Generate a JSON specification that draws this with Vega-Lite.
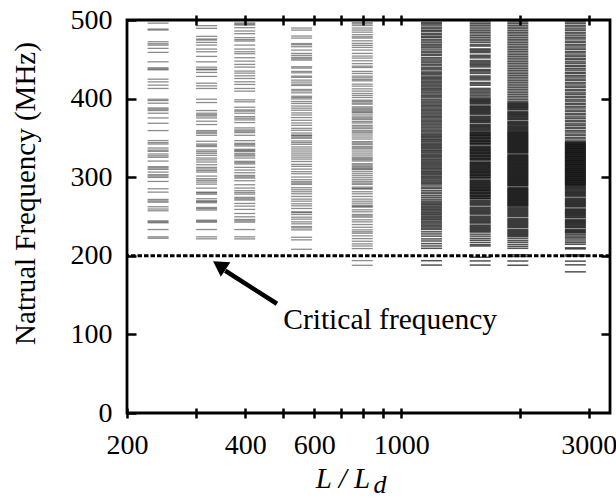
{
"$schema":"https://vega.github.io/schema/vega-lite/v6.json",
"width":483,"height":393,
"autosize":{"type":"none"},
"padding":{"left":127,"top":20,"right":6,"bottom":85},
"background":"white",
"config":{
 "view":{"stroke":"black","strokeWidth":2.8},
 "font":"Liberation Serif",
 "axis":{"labelFont":"Liberation Serif","titleFont":"Liberation Serif","labelColor":"black","titleColor":"black","tickColor":"black","tickWidth":2.5,"domain":false,"grid":false,"labelFontSize":28,"titleFontSize":29,"titleFontWeight":"normal","zindex":2}
},
"datasets":{"modes":[
{"L":240,"f":496},{"L":240,"f":488.5},{"L":240,"f":487.2},{"L":240,"f":472.3},{"L":240,"f":469.8},{"L":240,"f":468},{"L":240,"f":463.9},{"L":240,"f":458.8},{"L":240,"f":446.8},{"L":240,"f":439.2},{"L":240,"f":437.8},{"L":240,"f":436.6},{"L":240,"f":424.7},{"L":240,"f":421.3},{"L":240,"f":417.1},{"L":240,"f":412.9},{"L":240,"f":399.2},{"L":240,"f":397.5},{"L":240,"f":394.1},{"L":240,"f":388.1},{"L":240,"f":386.5},{"L":240,"f":384.8},{"L":240,"f":381.4},{"L":240,"f":375.4},{"L":240,"f":368.6},{"L":240,"f":359.3},{"L":240,"f":346.6},{"L":240,"f":344},{"L":240,"f":342.2},{"L":240,"f":337.1},{"L":240,"f":334.5},{"L":240,"f":332.9},{"L":240,"f":329.5},{"L":240,"f":327.2},{"L":240,"f":325.3},{"L":240,"f":320.5},{"L":240,"f":313.4},{"L":240,"f":311.8},{"L":240,"f":310},{"L":240,"f":306.5},{"L":240,"f":303.2},{"L":240,"f":301.5},{"L":240,"f":299.7},{"L":240,"f":294.6},{"L":240,"f":285.3},{"L":240,"f":281},{"L":240,"f":271.7},{"L":240,"f":269.8},{"L":240,"f":268.2},{"L":240,"f":262.4},{"L":240,"f":259.5},{"L":240,"f":257.3},{"L":240,"f":244.5},{"L":240,"f":243.2},{"L":240,"f":242},{"L":240,"f":233.4},{"L":240,"f":224.1},{"L":240,"f":222.3},
{"L":319,"f":492.8},{"L":319,"f":489.4},{"L":319,"f":479.2},{"L":319,"f":475.8},{"L":319,"f":474.5},{"L":319,"f":471.5},{"L":319,"f":468.1},{"L":319,"f":463},{"L":319,"f":459.6},{"L":319,"f":453.7},{"L":319,"f":446.8},{"L":319,"f":440},{"L":319,"f":437.5},{"L":319,"f":436.6},{"L":319,"f":433.3},{"L":319,"f":428.2},{"L":319,"f":419.6},{"L":319,"f":416.2},{"L":319,"f":412.9},{"L":319,"f":399.2},{"L":319,"f":395},{"L":319,"f":384.8},{"L":319,"f":381.4},{"L":319,"f":379.5},{"L":319,"f":377.9},{"L":319,"f":375.4},{"L":319,"f":371.2},{"L":319,"f":367},{"L":319,"f":359.3},{"L":319,"f":357.5},{"L":319,"f":355.9},{"L":319,"f":353.3},{"L":319,"f":345.7},{"L":319,"f":342.2},{"L":319,"f":340.5},{"L":319,"f":338.9},{"L":319,"f":334.6},{"L":319,"f":332.5},{"L":319,"f":330.4},{"L":319,"f":327.8},{"L":319,"f":324.4},{"L":319,"f":322},{"L":319,"f":319.3},{"L":319,"f":315.9},{"L":319,"f":312.5},{"L":319,"f":310.5},{"L":319,"f":308.5},{"L":319,"f":306.5},{"L":319,"f":301.4},{"L":319,"f":298.1},{"L":319,"f":296},{"L":319,"f":293.8},{"L":319,"f":291.2},{"L":319,"f":286.1},{"L":319,"f":281},{"L":319,"f":280},{"L":319,"f":278.4},{"L":319,"f":272.6},{"L":319,"f":270},{"L":319,"f":269},{"L":319,"f":267.5},{"L":319,"f":261.5},{"L":319,"f":260},{"L":319,"f":258.2},{"L":319,"f":245.3},{"L":319,"f":244},{"L":319,"f":242.7},{"L":319,"f":233.4},{"L":319,"f":224.1},{"L":319,"f":221.6},
{"L":399,"f":496.2},{"L":399,"f":494.8},{"L":399,"f":493.6},{"L":399,"f":490.2},{"L":399,"f":486},{"L":399,"f":482.6},{"L":399,"f":477.5},{"L":399,"f":475},{"L":399,"f":473.2},{"L":399,"f":468.1},{"L":399,"f":463},{"L":399,"f":459.6},{"L":399,"f":457.1},{"L":399,"f":452},{"L":399,"f":447.7},{"L":399,"f":443.5},{"L":399,"f":440.1},{"L":399,"f":435},{"L":399,"f":432.4},{"L":399,"f":429},{"L":399,"f":425.6},{"L":399,"f":421.4},{"L":399,"f":418},{"L":399,"f":412.9},{"L":399,"f":409.5},{"L":399,"f":398.4},{"L":399,"f":395.9},{"L":399,"f":389},{"L":399,"f":385.6},{"L":399,"f":384},{"L":399,"f":381.4},{"L":399,"f":377.1},{"L":399,"f":375},{"L":399,"f":372.9},{"L":399,"f":369.5},{"L":399,"f":362.7},{"L":399,"f":360.1},{"L":399,"f":358.5},{"L":399,"f":356.7},{"L":399,"f":353.3},{"L":399,"f":346.5},{"L":399,"f":343.1},{"L":399,"f":341.5},{"L":399,"f":339.7},{"L":399,"f":335.5},{"L":399,"f":334},{"L":399,"f":332.9},{"L":399,"f":330.4},{"L":399,"f":328.5},{"L":399,"f":327},{"L":399,"f":324.4},{"L":399,"f":320.2},{"L":399,"f":318.5},{"L":399,"f":316.8},{"L":399,"f":312.5},{"L":399,"f":309.1},{"L":399,"f":305.7},{"L":399,"f":302.3},{"L":399,"f":300.5},{"L":399,"f":298.9},{"L":399,"f":295.5},{"L":399,"f":290.4},{"L":399,"f":286.2},{"L":399,"f":282.8},{"L":399,"f":280.5},{"L":399,"f":278.5},{"L":399,"f":274.3},{"L":399,"f":272.5},{"L":399,"f":270.9},{"L":399,"f":266.6},{"L":399,"f":263.2},{"L":399,"f":259},{"L":399,"f":253.8},{"L":399,"f":249.6},{"L":399,"f":246.2},{"L":399,"f":244.5},{"L":399,"f":242.8},{"L":399,"f":233.4},{"L":399,"f":224.1},{"L":399,"f":221.5},
{"L":557,"f":489.8},{"L":557,"f":487.2},{"L":557,"f":479.6},{"L":557,"f":477},{"L":557,"f":470},{"L":557,"f":468.5},{"L":557,"f":466},{"L":557,"f":461.7},{"L":557,"f":457.5},{"L":557,"f":455},{"L":557,"f":452.5},{"L":557,"f":450.7},{"L":557,"f":449},{"L":557,"f":440.5},{"L":557,"f":438.8},{"L":557,"f":434.6},{"L":557,"f":432.8},{"L":557,"f":428.6},{"L":557,"f":427},{"L":557,"f":423.5},{"L":557,"f":421},{"L":557,"f":418.4},{"L":557,"f":416.7},{"L":557,"f":411.6},{"L":557,"f":409.8},{"L":557,"f":407.3},{"L":557,"f":403},{"L":557,"f":401.4},{"L":557,"f":399.6},{"L":557,"f":396.3},{"L":557,"f":393.8},{"L":557,"f":390.5},{"L":557,"f":387.8},{"L":557,"f":385.2},{"L":557,"f":381.8},{"L":557,"f":379.2},{"L":557,"f":375.9},{"L":557,"f":372.4},{"L":557,"f":369},{"L":557,"f":366},{"L":557,"f":362.2},{"L":557,"f":359.7},{"L":557,"f":356.2},{"L":557,"f":353.7},{"L":557,"f":352.9},{"L":557,"f":351.1},{"L":557,"f":349.5},{"L":557,"f":346.1},{"L":557,"f":344},{"L":557,"f":341.8},{"L":557,"f":338.5},{"L":557,"f":335.9},{"L":557,"f":333.3},{"L":557,"f":330.7},{"L":557,"f":328.2},{"L":557,"f":325.6},{"L":557,"f":323.1},{"L":557,"f":320},{"L":557,"f":316.3},{"L":557,"f":313.8},{"L":557,"f":310.3},{"L":557,"f":307},{"L":557,"f":304.4},{"L":557,"f":300.2},{"L":557,"f":296.8},{"L":557,"f":294.3},{"L":557,"f":292.5},{"L":557,"f":290.8},{"L":557,"f":286.6},{"L":557,"f":284},{"L":557,"f":281.5},{"L":557,"f":278.9},{"L":557,"f":275.5},{"L":557,"f":272.1},{"L":557,"f":269.5},{"L":557,"f":266.2},{"L":557,"f":263.6},{"L":557,"f":260.2},{"L":557,"f":256},{"L":557,"f":255},{"L":557,"f":252.6},{"L":557,"f":249.1},{"L":557,"f":246.6},{"L":557,"f":243.2},{"L":557,"f":240.7},{"L":557,"f":237.2},{"L":557,"f":235.5},{"L":557,"f":233},{"L":557,"f":223.6},{"L":557,"f":220.3},{"L":557,"f":208.3},
{"L":795,"f":496.6},{"L":795,"f":495},{"L":795,"f":493},{"L":795,"f":489.8},{"L":795,"f":487.2},{"L":795,"f":484.5},{"L":795,"f":481.3},{"L":795,"f":478.7},{"L":795,"f":477},{"L":795,"f":473.5},{"L":795,"f":470.2},{"L":795,"f":467.7},{"L":795,"f":465.1},{"L":795,"f":461.7},{"L":795,"f":457.5},{"L":795,"f":454.1},{"L":795,"f":451.5},{"L":795,"f":448.1},{"L":795,"f":444.5},{"L":795,"f":441.3},{"L":795,"f":439.6},{"L":795,"f":434.6},{"L":795,"f":432},{"L":795,"f":428.6},{"L":795,"f":426.5},{"L":795,"f":424.3},{"L":795,"f":422.6},{"L":795,"f":418.4},{"L":795,"f":415.8},{"L":795,"f":412.4},{"L":795,"f":409.5},{"L":795,"f":406.5},{"L":795,"f":404},{"L":795,"f":401.4},{"L":795,"f":398},{"L":795,"f":396.5},{"L":795,"f":394.5},{"L":795,"f":392.9},{"L":795,"f":389.5},{"L":795,"f":387.8},{"L":795,"f":386.1},{"L":795,"f":384.4},{"L":795,"f":383},{"L":795,"f":381.8},{"L":795,"f":379.2},{"L":795,"f":376.7},{"L":795,"f":375},{"L":795,"f":373.3},{"L":795,"f":370.8},{"L":795,"f":369},{"L":795,"f":366},{"L":795,"f":364},{"L":795,"f":362.2},{"L":795,"f":359.7},{"L":795,"f":357.8},{"L":795,"f":356.2},{"L":795,"f":353.7},{"L":795,"f":351.1},{"L":795,"f":348.6},{"L":795,"f":345.2},{"L":795,"f":343.5},{"L":795,"f":341.8},{"L":795,"f":339.3},{"L":795,"f":337.5},{"L":795,"f":335.9},{"L":795,"f":333.3},{"L":795,"f":330.7},{"L":795,"f":328.2},{"L":795,"f":325.6},{"L":795,"f":324},{"L":795,"f":322.3},{"L":795,"f":320.6},{"L":795,"f":317.2},{"L":795,"f":315.5},{"L":795,"f":313.8},{"L":795,"f":312.1},{"L":795,"f":310.8},{"L":795,"f":309.6},{"L":795,"f":307},{"L":795,"f":304.4},{"L":795,"f":301.9},{"L":795,"f":299.3},{"L":795,"f":296.8},{"L":795,"f":294.5},{"L":795,"f":292.5},{"L":795,"f":290.8},{"L":795,"f":287.4},{"L":795,"f":285.8},{"L":795,"f":284.8},{"L":795,"f":281.5},{"L":795,"f":278.9},{"L":795,"f":275.5},{"L":795,"f":272.1},{"L":795,"f":269.5},{"L":795,"f":267},{"L":795,"f":264.4},{"L":795,"f":262.9},{"L":795,"f":261.9},{"L":795,"f":258.5},{"L":795,"f":256},{"L":795,"f":252.6},{"L":795,"f":250.8},{"L":795,"f":249.1},{"L":795,"f":245.8},{"L":795,"f":243.2},{"L":795,"f":239.8},{"L":795,"f":236.3},{"L":795,"f":233},{"L":795,"f":230.6},{"L":795,"f":228.7},{"L":795,"f":225.4},{"L":795,"f":221.9},{"L":795,"f":218.5},{"L":795,"f":215.2},{"L":795,"f":212.5},{"L":795,"f":209.2},{"L":795,"f":193.9},{"L":795,"f":187.9},
{"L":1193,"f":497},{"L":1193,"f":495.2},{"L":1193,"f":493.5},{"L":1193,"f":491},{"L":1193,"f":489.2},{"L":1193,"f":487},{"L":1193,"f":485.5},{"L":1193,"f":483},{"L":1193,"f":481.2},{"L":1193,"f":479},{"L":1193,"f":477.5},{"L":1193,"f":475},{"L":1193,"f":473.2},{"L":1193,"f":471},{"L":1193,"f":468.8},{"L":1193,"f":467},{"L":1193,"f":465.2},{"L":1193,"f":463},{"L":1193,"f":460.5},{"L":1193,"f":458.8},{"L":1193,"f":456.5},{"L":1193,"f":454.8},{"L":1193,"f":452},{"L":1193,"f":450.2},{"L":1193,"f":448},{"L":1193,"f":446.3},{"L":1193,"f":444},{"L":1193,"f":442.5},{"L":1193,"f":440},{"L":1193,"f":438.2},{"L":1193,"f":436.5},{"L":1193,"f":434},{"L":1193,"f":432.5},{"L":1193,"f":431},{"L":1193,"f":428.8},{"L":1193,"f":427},{"L":1193,"f":425.5},{"L":1193,"f":423.8},{"L":1193,"f":422},{"L":1193,"f":420.2},{"L":1193,"f":418.5},{"L":1193,"f":416.8},{"L":1193,"f":415},{"L":1193,"f":413.2},{"L":1193,"f":411.5},{"L":1193,"f":409.8},{"L":1193,"f":408},{"L":1193,"f":406},{"L":1193,"f":404.2},{"L":1193,"f":402.5},{"L":1193,"f":400.8},{"L":1193,"f":398.5},{"L":1193,"f":396.8},{"L":1193,"f":395},{"L":1193,"f":393.2},{"L":1193,"f":391.5},{"L":1193,"f":389.8},{"L":1193,"f":388},{"L":1193,"f":386.2},{"L":1193,"f":384.5},{"L":1193,"f":382.8},{"L":1193,"f":381},{"L":1193,"f":379.2},{"L":1193,"f":377.5},{"L":1193,"f":375.8},{"L":1193,"f":374},{"L":1193,"f":372.2},{"L":1193,"f":370.5},{"L":1193,"f":368.8},{"L":1193,"f":367},{"L":1193,"f":365.2},{"L":1193,"f":363.5},{"L":1193,"f":361.5},{"L":1193,"f":359.8},{"L":1193,"f":358},{"L":1193,"f":356.2},{"L":1193,"f":354.5},{"L":1193,"f":353},{"L":1193,"f":351.5},{"L":1193,"f":350},{"L":1193,"f":348.3},{"L":1193,"f":346.8},{"L":1193,"f":345.2},{"L":1193,"f":343.5},{"L":1193,"f":342},{"L":1193,"f":340.5},{"L":1193,"f":339},{"L":1193,"f":337.5},{"L":1193,"f":336},{"L":1193,"f":334.3},{"L":1193,"f":332.8},{"L":1193,"f":331.2},{"L":1193,"f":329.5},{"L":1193,"f":328},{"L":1193,"f":326.5},{"L":1193,"f":325},{"L":1193,"f":323.2},{"L":1193,"f":321.8},{"L":1193,"f":320.2},{"L":1193,"f":318.5},{"L":1193,"f":317},{"L":1193,"f":315.5},{"L":1193,"f":314},{"L":1193,"f":312.3},{"L":1193,"f":310.8},{"L":1193,"f":309.2},{"L":1193,"f":307.5},{"L":1193,"f":306},{"L":1193,"f":304.5},{"L":1193,"f":303},{"L":1193,"f":301.3},{"L":1193,"f":299.8},{"L":1193,"f":298.2},{"L":1193,"f":296.5},{"L":1193,"f":295},{"L":1193,"f":293.3},{"L":1193,"f":291.8},{"L":1193,"f":290},{"L":1193,"f":287.5},{"L":1193,"f":285.8},{"L":1193,"f":283.2},{"L":1193,"f":281},{"L":1193,"f":279},{"L":1193,"f":276.5},{"L":1193,"f":274.3},{"L":1193,"f":272},{"L":1193,"f":269.8},{"L":1193,"f":268.2},{"L":1193,"f":266.5},{"L":1193,"f":265},{"L":1193,"f":263.3},{"L":1193,"f":261.8},{"L":1193,"f":260},{"L":1193,"f":258.5},{"L":1193,"f":257},{"L":1193,"f":255.3},{"L":1193,"f":253.8},{"L":1193,"f":252.2},{"L":1193,"f":250.5},{"L":1193,"f":249},{"L":1193,"f":247.3},{"L":1193,"f":245.8},{"L":1193,"f":244},{"L":1193,"f":242.2},{"L":1193,"f":240.5},{"L":1193,"f":238.8},{"L":1193,"f":237},{"L":1193,"f":235.2},{"L":1193,"f":233.5},{"L":1193,"f":230.5},{"L":1193,"f":227.8},{"L":1193,"f":225},{"L":1193,"f":221.5},{"L":1193,"f":218.8},{"L":1193,"f":215.5},{"L":1193,"f":212.5},{"L":1193,"f":209.5},{"L":1193,"f":193.8},{"L":1193,"f":188.2},
{"L":1588,"f":497.5},{"L":1588,"f":495.3},{"L":1588,"f":493.2},{"L":1588,"f":491},{"L":1588,"f":488.7},{"L":1588,"f":486.5},{"L":1588,"f":484.4},{"L":1588,"f":482.2},{"L":1588,"f":480},{"L":1588,"f":477.8},{"L":1588,"f":475.6},{"L":1588,"f":473.5},{"L":1588,"f":471.3},{"L":1588,"f":468.5},{"L":1588,"f":466.8},{"L":1588,"f":463.2},{"L":1588,"f":461.8},{"L":1588,"f":460.2},{"L":1588,"f":458.5},{"L":1588,"f":455.2},{"L":1588,"f":453.5},{"L":1588,"f":451.8},{"L":1588,"f":448.5},{"L":1588,"f":446.8},{"L":1588,"f":445.2},{"L":1588,"f":443.6},{"L":1588,"f":442},{"L":1588,"f":440.3},{"L":1588,"f":437},{"L":1588,"f":435.5},{"L":1588,"f":433.8},{"L":1588,"f":432},{"L":1588,"f":428.8},{"L":1588,"f":427.2},{"L":1588,"f":425.5},{"L":1588,"f":423.8},{"L":1588,"f":420.5},{"L":1588,"f":418.8},{"L":1588,"f":417},{"L":1588,"f":413},{"L":1588,"f":411.2},{"L":1588,"f":409.5},{"L":1588,"f":407.6},{"L":1588,"f":405.8},{"L":1588,"f":403.9},{"L":1588,"f":402},{"L":1588,"f":400.2},{"L":1588,"f":399},{"L":1588,"f":397.8},{"L":1588,"f":396.6},{"L":1588,"f":395.4},{"L":1588,"f":394.2},{"L":1588,"f":393},{"L":1588,"f":390.8},{"L":1588,"f":389.6},{"L":1588,"f":388.4},{"L":1588,"f":387.2},{"L":1588,"f":386},{"L":1588,"f":384.8},{"L":1588,"f":383.6},{"L":1588,"f":382.4},{"L":1588,"f":381.2},{"L":1588,"f":380},{"L":1588,"f":377.8},{"L":1588,"f":376.6},{"L":1588,"f":375.4},{"L":1588,"f":374.2},{"L":1588,"f":373},{"L":1588,"f":371.8},{"L":1588,"f":370.6},{"L":1588,"f":369.4},{"L":1588,"f":367.2},{"L":1588,"f":366},{"L":1588,"f":364.8},{"L":1588,"f":363.6},{"L":1588,"f":362.4},{"L":1588,"f":361.2},{"L":1588,"f":360},{"L":1588,"f":358.8},{"L":1588,"f":357.4},{"L":1588,"f":356.6},{"L":1588,"f":355.3},{"L":1588,"f":354.6},{"L":1588,"f":353.4},{"L":1588,"f":352.7},{"L":1588,"f":351.3},{"L":1588,"f":350.6},{"L":1588,"f":349.4},{"L":1588,"f":348.7},{"L":1588,"f":347.3},{"L":1588,"f":346.6},{"L":1588,"f":345.4},{"L":1588,"f":344.7},{"L":1588,"f":343.3},{"L":1588,"f":342.6},{"L":1588,"f":341.4},{"L":1588,"f":339.6},{"L":1588,"f":338.4},{"L":1588,"f":337.7},{"L":1588,"f":336.3},{"L":1588,"f":335.6},{"L":1588,"f":334.4},{"L":1588,"f":333.7},{"L":1588,"f":332.3},{"L":1588,"f":331.6},{"L":1588,"f":330.4},{"L":1588,"f":329.7},{"L":1588,"f":328.3},{"L":1588,"f":327.6},{"L":1588,"f":326.4},{"L":1588,"f":325.7},{"L":1588,"f":324.3},{"L":1588,"f":323.6},{"L":1588,"f":322.4},{"L":1588,"f":321.7},{"L":1588,"f":319.6},{"L":1588,"f":318.4},{"L":1588,"f":317.7},{"L":1588,"f":316.3},{"L":1588,"f":315.6},{"L":1588,"f":314.4},{"L":1588,"f":313.7},{"L":1588,"f":312.3},{"L":1588,"f":311.6},{"L":1588,"f":310.4},{"L":1588,"f":309.7},{"L":1588,"f":308.3},{"L":1588,"f":307.6},{"L":1588,"f":306.4},{"L":1588,"f":305.7},{"L":1588,"f":304.3},{"L":1588,"f":303.6},{"L":1588,"f":302.4},{"L":1588,"f":301.7},{"L":1588,"f":300.3},{"L":1588,"f":299.6},{"L":1588,"f":298.4},{"L":1588,"f":296.6},{"L":1588,"f":295.4},{"L":1588,"f":294.7},{"L":1588,"f":293.3},{"L":1588,"f":292.6},{"L":1588,"f":291.4},{"L":1588,"f":290.7},{"L":1588,"f":289.3},{"L":1588,"f":288.6},{"L":1588,"f":287.4},{"L":1588,"f":286.7},{"L":1588,"f":285.3},{"L":1588,"f":284.6},{"L":1588,"f":283.4},{"L":1588,"f":282.7},{"L":1588,"f":281.3},{"L":1588,"f":280.6},{"L":1588,"f":279.4},{"L":1588,"f":278.7},{"L":1588,"f":277.3},{"L":1588,"f":276.6},{"L":1588,"f":275.4},{"L":1588,"f":274.7},{"L":1588,"f":273.3},{"L":1588,"f":272.6},{"L":1588,"f":270.8},{"L":1588,"f":269.5},{"L":1588,"f":268.2},{"L":1588,"f":266.9},{"L":1588,"f":265.6},{"L":1588,"f":264.3},{"L":1588,"f":262},{"L":1588,"f":260.7},{"L":1588,"f":259.4},{"L":1588,"f":258.1},{"L":1588,"f":256.8},{"L":1588,"f":255.5},{"L":1588,"f":254.2},{"L":1588,"f":252.9},{"L":1588,"f":250.6},{"L":1588,"f":249.3},{"L":1588,"f":248},{"L":1588,"f":246.7},{"L":1588,"f":245.4},{"L":1588,"f":244.1},{"L":1588,"f":242.8},{"L":1588,"f":241.5},{"L":1588,"f":239.2},{"L":1588,"f":237.9},{"L":1588,"f":236.6},{"L":1588,"f":235.3},{"L":1588,"f":234},{"L":1588,"f":232.7},{"L":1588,"f":231.4},{"L":1588,"f":230.1},{"L":1588,"f":227.5},{"L":1588,"f":225},{"L":1588,"f":222.2},{"L":1588,"f":219.8},{"L":1588,"f":217},{"L":1588,"f":214.2},{"L":1588,"f":212.5},{"L":1588,"f":198.2},{"L":1588,"f":193.5},{"L":1588,"f":188.2},
{"L":1980,"f":497.5},{"L":1980,"f":495.4},{"L":1980,"f":493.1},{"L":1980,"f":490.9},{"L":1980,"f":488.8},{"L":1980,"f":486.5},{"L":1980,"f":484.3},{"L":1980,"f":482.2},{"L":1980,"f":480},{"L":1980,"f":477.7},{"L":1980,"f":475.5},{"L":1980,"f":473.4},{"L":1980,"f":471.2},{"L":1980,"f":469},{"L":1980,"f":466.7},{"L":1980,"f":464.6},{"L":1980,"f":462.4},{"L":1980,"f":460.2},{"L":1980,"f":458},{"L":1980,"f":455.8},{"L":1980,"f":453.6},{"L":1980,"f":451.4},{"L":1980,"f":449.2},{"L":1980,"f":447},{"L":1980,"f":444.8},{"L":1980,"f":442.6},{"L":1980,"f":440.4},{"L":1980,"f":438.2},{"L":1980,"f":436},{"L":1980,"f":433.8},{"L":1980,"f":431.6},{"L":1980,"f":429.4},{"L":1980,"f":427.2},{"L":1980,"f":425},{"L":1980,"f":422.8},{"L":1980,"f":420.6},{"L":1980,"f":418.4},{"L":1980,"f":416.2},{"L":1980,"f":414},{"L":1980,"f":411.8},{"L":1980,"f":409.6},{"L":1980,"f":407.4},{"L":1980,"f":405.2},{"L":1980,"f":403},{"L":1980,"f":400.8},{"L":1980,"f":398.6},{"L":1980,"f":396.4},{"L":1980,"f":394.8},{"L":1980,"f":393.6},{"L":1980,"f":392.5},{"L":1980,"f":391.3},{"L":1980,"f":390.2},{"L":1980,"f":389},{"L":1980,"f":387.9},{"L":1980,"f":386.7},{"L":1980,"f":385.6},{"L":1980,"f":383.5},{"L":1980,"f":382.3},{"L":1980,"f":381.2},{"L":1980,"f":380},{"L":1980,"f":378.9},{"L":1980,"f":377.7},{"L":1980,"f":376.6},{"L":1980,"f":375.4},{"L":1980,"f":374.3},{"L":1980,"f":373.1},{"L":1980,"f":371},{"L":1980,"f":369.8},{"L":1980,"f":368.7},{"L":1980,"f":367.5},{"L":1980,"f":366.4},{"L":1980,"f":365.2},{"L":1980,"f":364.1},{"L":1980,"f":362.9},{"L":1980,"f":361.8},{"L":1980,"f":360.6},{"L":1980,"f":359.5},{"L":1980,"f":358.3},{"L":1980,"f":357.2},{"L":1980,"f":356.3},{"L":1980,"f":355.3},{"L":1980,"f":354.4},{"L":1980,"f":353.4},{"L":1980,"f":352.5},{"L":1980,"f":351.5},{"L":1980,"f":350.6},{"L":1980,"f":349.6},{"L":1980,"f":348.7},{"L":1980,"f":347.7},{"L":1980,"f":346.8},{"L":1980,"f":345.8},{"L":1980,"f":344.9},{"L":1980,"f":343.9},{"L":1980,"f":343},{"L":1980,"f":342},{"L":1980,"f":341.1},{"L":1980,"f":340.1},{"L":1980,"f":339.2},{"L":1980,"f":338.2},{"L":1980,"f":337.3},{"L":1980,"f":336.3},{"L":1980,"f":335.4},{"L":1980,"f":334.4},{"L":1980,"f":333.5},{"L":1980,"f":332.5},{"L":1980,"f":331.6},{"L":1980,"f":330.6},{"L":1980,"f":328.7},{"L":1980,"f":327.7},{"L":1980,"f":326.8},{"L":1980,"f":325.8},{"L":1980,"f":324.9},{"L":1980,"f":323.9},{"L":1980,"f":323},{"L":1980,"f":322},{"L":1980,"f":321.1},{"L":1980,"f":320.1},{"L":1980,"f":319.2},{"L":1980,"f":318.2},{"L":1980,"f":317.3},{"L":1980,"f":316.3},{"L":1980,"f":315.4},{"L":1980,"f":314.4},{"L":1980,"f":313.5},{"L":1980,"f":312.5},{"L":1980,"f":311.6},{"L":1980,"f":310.6},{"L":1980,"f":309.7},{"L":1980,"f":308.7},{"L":1980,"f":307.8},{"L":1980,"f":306.8},{"L":1980,"f":305.9},{"L":1980,"f":304.9},{"L":1980,"f":304},{"L":1980,"f":303},{"L":1980,"f":302.1},{"L":1980,"f":301.1},{"L":1980,"f":300.2},{"L":1980,"f":299.2},{"L":1980,"f":298.3},{"L":1980,"f":297.3},{"L":1980,"f":296.4},{"L":1980,"f":295.4},{"L":1980,"f":294.5},{"L":1980,"f":293.5},{"L":1980,"f":292.6},{"L":1980,"f":291.6},{"L":1980,"f":290.7},{"L":1980,"f":289.7},{"L":1980,"f":288.8},{"L":1980,"f":286.9},{"L":1980,"f":285.9},{"L":1980,"f":285},{"L":1980,"f":284},{"L":1980,"f":283.1},{"L":1980,"f":282.1},{"L":1980,"f":281.2},{"L":1980,"f":280.2},{"L":1980,"f":279.3},{"L":1980,"f":278.3},{"L":1980,"f":277.4},{"L":1980,"f":276.4},{"L":1980,"f":275.5},{"L":1980,"f":274.5},{"L":1980,"f":273.6},{"L":1980,"f":272.6},{"L":1980,"f":271.7},{"L":1980,"f":270.7},{"L":1980,"f":269.8},{"L":1980,"f":268.8},{"L":1980,"f":267.9},{"L":1980,"f":266.9},{"L":1980,"f":266},{"L":1980,"f":265},{"L":1980,"f":264.1},{"L":1980,"f":263.1},{"L":1980,"f":261.5},{"L":1980,"f":260.2},{"L":1980,"f":258.9},{"L":1980,"f":257.6},{"L":1980,"f":256.3},{"L":1980,"f":255},{"L":1980,"f":253.7},{"L":1980,"f":252.4},{"L":1980,"f":251.1},{"L":1980,"f":249.8},{"L":1980,"f":247.5},{"L":1980,"f":246.2},{"L":1980,"f":244.9},{"L":1980,"f":243.6},{"L":1980,"f":242.3},{"L":1980,"f":241},{"L":1980,"f":239.7},{"L":1980,"f":238.4},{"L":1980,"f":237.1},{"L":1980,"f":235.8},{"L":1980,"f":233.5},{"L":1980,"f":232.2},{"L":1980,"f":230.9},{"L":1980,"f":229.6},{"L":1980,"f":228.3},{"L":1980,"f":227},{"L":1980,"f":225.7},{"L":1980,"f":224.4},{"L":1980,"f":222.1},{"L":1980,"f":219.5},{"L":1980,"f":217.2},{"L":1980,"f":214.5},{"L":1980,"f":212},{"L":1980,"f":209.5},{"L":1980,"f":201.2},{"L":1980,"f":199.2},{"L":1980,"f":193.4},{"L":1980,"f":188},
{"L":2775,"f":497.6},{"L":2775,"f":495.6},{"L":2775,"f":493.1},{"L":2775,"f":491.2},{"L":2775,"f":488.7},{"L":2775,"f":486.8},{"L":2775,"f":484.2},{"L":2775,"f":482.3},{"L":2775,"f":479.9},{"L":2775,"f":477.6},{"L":2775,"f":475.8},{"L":2775,"f":473.1},{"L":2775,"f":471.3},{"L":2775,"f":468.7},{"L":2775,"f":466.9},{"L":2775,"f":464.4},{"L":2775,"f":462.5},{"L":2775,"f":459.8},{"L":2775,"f":458.1},{"L":2775,"f":455.5},{"L":2775,"f":453.7},{"L":2775,"f":451.2},{"L":2775,"f":449.4},{"L":2775,"f":446.8},{"L":2775,"f":444.9},{"L":2775,"f":442.3},{"L":2775,"f":440.6},{"L":2775,"f":438.1},{"L":2775,"f":436.2},{"L":2775,"f":433.5},{"L":2775,"f":431.8},{"L":2775,"f":429.2},{"L":2775,"f":427.4},{"L":2775,"f":424.9},{"L":2775,"f":423.1},{"L":2775,"f":420.4},{"L":2775,"f":418.6},{"L":2775,"f":416.1},{"L":2775,"f":414.3},{"L":2775,"f":411.6},{"L":2775,"f":409.9},{"L":2775,"f":407.3},{"L":2775,"f":405.5},{"L":2775,"f":403},{"L":2775,"f":401.1},{"L":2775,"f":398.5},{"L":2775,"f":396.7},{"L":2775,"f":394.1},{"L":2775,"f":392.3},{"L":2775,"f":389.8},{"L":2775,"f":388},{"L":2775,"f":385.4},{"L":2775,"f":383.6},{"L":2775,"f":381},{"L":2775,"f":379.3},{"L":2775,"f":376.7},{"L":2775,"f":374.8},{"L":2775,"f":372.3},{"L":2775,"f":370.5},{"L":2775,"f":367.9},{"L":2775,"f":366.1},{"L":2775,"f":363.6},{"L":2775,"f":361.8},{"L":2775,"f":359.2},{"L":2775,"f":357.4},{"L":2775,"f":354.9},{"L":2775,"f":353.1},{"L":2775,"f":350.5},{"L":2775,"f":348.7},{"L":2775,"f":346.2},{"L":2775,"f":344.9},{"L":2775,"f":343.8},{"L":2775,"f":343},{"L":2775,"f":342.1},{"L":2775,"f":341.3},{"L":2775,"f":340.4},{"L":2775,"f":339.6},{"L":2775,"f":338.7},{"L":2775,"f":337.9},{"L":2775,"f":337},{"L":2775,"f":336.2},{"L":2775,"f":335.3},{"L":2775,"f":334.5},{"L":2775,"f":333.6},{"L":2775,"f":332.8},{"L":2775,"f":331.9},{"L":2775,"f":331.1},{"L":2775,"f":330.2},{"L":2775,"f":329.4},{"L":2775,"f":328.5},{"L":2775,"f":327.7},{"L":2775,"f":326.8},{"L":2775,"f":326},{"L":2775,"f":325.1},{"L":2775,"f":324.3},{"L":2775,"f":323.4},{"L":2775,"f":322.6},{"L":2775,"f":321.7},{"L":2775,"f":320.9},{"L":2775,"f":320},{"L":2775,"f":319.2},{"L":2775,"f":318.3},{"L":2775,"f":317.5},{"L":2775,"f":316.6},{"L":2775,"f":315.8},{"L":2775,"f":314.9},{"L":2775,"f":314.1},{"L":2775,"f":313.2},{"L":2775,"f":312.4},{"L":2775,"f":311.5},{"L":2775,"f":310.7},{"L":2775,"f":309.8},{"L":2775,"f":309},{"L":2775,"f":308.1},{"L":2775,"f":307.3},{"L":2775,"f":306.4},{"L":2775,"f":305.6},{"L":2775,"f":304.7},{"L":2775,"f":303.9},{"L":2775,"f":303},{"L":2775,"f":302.2},{"L":2775,"f":301.3},{"L":2775,"f":300.5},{"L":2775,"f":299.6},{"L":2775,"f":298.8},{"L":2775,"f":297.9},{"L":2775,"f":297.1},{"L":2775,"f":296.2},{"L":2775,"f":295.4},{"L":2775,"f":294.5},{"L":2775,"f":293.7},{"L":2775,"f":292.8},{"L":2775,"f":292},{"L":2775,"f":291.1},{"L":2775,"f":290.3},{"L":2775,"f":289.4},{"L":2775,"f":288.3},{"L":2775,"f":287.1},{"L":2775,"f":286},{"L":2775,"f":284.8},{"L":2775,"f":283.7},{"L":2775,"f":282.5},{"L":2775,"f":281.4},{"L":2775,"f":280.2},{"L":2775,"f":279.1},{"L":2775,"f":277.9},{"L":2775,"f":276.8},{"L":2775,"f":275.6},{"L":2775,"f":273.5},{"L":2775,"f":272.3},{"L":2775,"f":271.2},{"L":2775,"f":270},{"L":2775,"f":268.9},{"L":2775,"f":267.7},{"L":2775,"f":266.6},{"L":2775,"f":265.4},{"L":2775,"f":264.3},{"L":2775,"f":263.1},{"L":2775,"f":262},{"L":2775,"f":259.8},{"L":2775,"f":258.6},{"L":2775,"f":257.5},{"L":2775,"f":256.3},{"L":2775,"f":255.2},{"L":2775,"f":254},{"L":2775,"f":252.9},{"L":2775,"f":251.7},{"L":2775,"f":250.6},{"L":2775,"f":249.4},{"L":2775,"f":248.3},{"L":2775,"f":246.1},{"L":2775,"f":244.9},{"L":2775,"f":243.8},{"L":2775,"f":242.6},{"L":2775,"f":241.5},{"L":2775,"f":240.3},{"L":2775,"f":239.2},{"L":2775,"f":238},{"L":2775,"f":236.9},{"L":2775,"f":235.7},{"L":2775,"f":233.5},{"L":2775,"f":232.3},{"L":2775,"f":231.2},{"L":2775,"f":230},{"L":2775,"f":228.9},{"L":2775,"f":227},{"L":2775,"f":225.1},{"L":2775,"f":223.2},{"L":2775,"f":221.3},{"L":2775,"f":218.9},{"L":2775,"f":216.8},{"L":2775,"f":214.6},{"L":2775,"f":210.2},{"L":2775,"f":208.8},{"L":2775,"f":201.3},{"L":2775,"f":199.6},{"L":2775,"f":193.2},{"L":2775,"f":188.5},{"L":2775,"f":179.6}
],
"one":[{"note":"annotation"}]},
"layer":[
 {
  "data":{"name":"modes"},
  "transform":[{"filter":"datum.L < 1000"}],
  "mark":{"type":"tick","orient":"horizontal","size":21,"thickness":1.3,"color":"black","opacity":0.45},
  "encoding":{
   "x":{"field":"L","type":"quantitative","scale":{"type":"log","domain":[200,3400],"nice":false},
    "axis":{"orient":"bottom","offset":-5,"values":[200,300,400,500,600,700,800,900,1000,2000,3000],"tickSize":10,"labelPadding":35,"labelBaseline":"alphabetic","labelFlush":false,"labelOverlap":false,
     "labelExpr":"indexof([200,400,600,1000,3000], datum.value) >= 0 ? format(datum.value, 'd') : ''",
     "title":"L / L","titleFontStyle":"italic","titleX":215.5,"titleY":79,"titleAlign":"center","titleBaseline":"alphabetic"}},
   "y":{"field":"f","type":"quantitative","scale":{"domain":[0,500],"nice":false},
    "axis":{"orient":"left","values":[0,100,200,300,400,500],"tickSize":-9,"labelPadding":24,
     "title":"Natrual Frequency (MHz)","titleX":-102,"titleY":173,"titleAngle":-90,"titleAlign":"center","titleBaseline":"middle"}}
  }
 },
 {
  "data":{"name":"modes"},
  "transform":[{"filter":"datum.L > 1000"}],
  "mark":{"type":"tick","orient":"horizontal","size":21,"thickness":1.5,"color":"black","opacity":0.68},
  "encoding":{
   "x":{"field":"L","type":"quantitative","scale":{"type":"log","domain":[200,3400],"nice":false},"axis":null},
   "y":{"field":"f","type":"quantitative","scale":{"domain":[0,500],"nice":false},"axis":null}
  }
 },
 {
  "data":{"name":"one"},
  "mark":{"type":"rule","color":"black","strokeWidth":3,"strokeDash":[4.5,2]},
  "encoding":{"y":{"datum":200,"type":"quantitative","scale":{"domain":[0,500],"nice":false},"axis":null}}
 },
 {
  "data":{"name":"one"},
  "mark":{"type":"rule","color":"black","strokeWidth":4.5},
  "encoding":{
   "x":{"datum":482,"type":"quantitative","scale":{"type":"log","domain":[200,3400],"nice":false},
    "axis":{"orient":"top","offset":-5,"values":[300,400,500,600,700,800,900,1000,2000,3000],"tickSize":10,"labels":false,"title":null}},
   "y":{"datum":139,"type":"quantitative","scale":{"domain":[0,500],"nice":false},
    "axis":{"orient":"right","values":[100,200,300,400],"tickSize":-9,"labels":false,"title":null}},
   "x2":{"datum":356},
   "y2":{"datum":181}
  }
 },
 {
  "data":{"name":"one"},
  "mark":{"type":"point","shape":"triangle","filled":true,"color":"black","opacity":1,"size":300,"angle":-56.5},
  "encoding":{
   "x":{"datum":348,"type":"quantitative","scale":{"type":"log","domain":[200,3400],"nice":false},"axis":null},
   "y":{"datum":186,"type":"quantitative","scale":{"domain":[0,500],"nice":false},"axis":null}
  }
 },
 {
  "data":{"name":"one"},
  "mark":{"type":"text","text":"Critical frequency","align":"left","baseline":"alphabetic","fontSize":29.5,"font":"Liberation Serif","color":"black"},
  "encoding":{
   "x":{"datum":500,"type":"quantitative","scale":{"type":"log","domain":[200,3400],"nice":false},"axis":null},
   "y":{"datum":107,"type":"quantitative","scale":{"domain":[0,500],"nice":false},"axis":null}
  }
 },
 {
  "data":{"name":"one"},
  "mark":{"type":"text","text":"d","align":"left","baseline":"alphabetic","fontSize":26,"fontStyle":"italic","font":"Liberation Serif","color":"black"},
  "encoding":{
   "x":{"datum":849,"type":"quantitative","scale":{"type":"log","domain":[200,3400],"nice":false},"axis":null},
   "y":{"datum":-102,"type":"quantitative","scale":{"domain":[0,500],"nice":false},"axis":null}
  }
 }
],
"resolve":{"axis":{"x":"independent","y":"independent"}}
}
